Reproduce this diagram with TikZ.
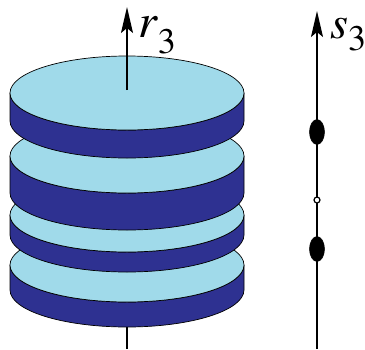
\documentclass[tikz,border=0pt]{standalone}
\usepackage{fontspec}
\setmainfont{TeX Gyre Termes}
\usetikzlibrary{arrows.meta,shapes.geometric}
\definecolor{facecol}{RGB}{160,218,234}
\definecolor{sidecol}{RGB}{46,49,145}
\begin{document}
\begin{tikzpicture}[x=1pt,y=-1pt,
  axisline/.style={line width=1.6pt,black},
  axisarrow/.style={axisline,-{Stealth[length=26pt,width=12pt,inset=5pt]}},
  rim/.style={fill=sidecol,draw=black,line width=0.7pt,line join=round},
  face/.style={fill=facecol,draw=black,line width=0.7pt},
  bead/.style={fill=black,draw=black,line width=0.5pt,ellipse,minimum width=15pt,minimum height=25pt,inner sep=0pt},
  hole/.style={fill=white,draw=black,line width=1.2pt,circle,minimum size=6pt,inner sep=0pt},
  axislabel/.style={anchor=base west,inner sep=0pt}
]
\useasboundingbox (0,0) rectangle (365,349);
\def\cx{127}\def\rx{117}\def\ry{37}
% one disc: #1 = centre height of its top face, #2 = thickness
\newcommand\drawdisc[2]{%
  \path[rim] (\cx-\rx,#1) -- (\cx-\rx,#1+#2)
    arc[start angle=180,end angle=0,x radius=\rx,y radius=\ry]
    -- (\cx+\rx,#1)
    arc[start angle=0,end angle=180,x radius=\rx,y radius=\ry] -- cycle;
  \path[face] (\cx,#1) ellipse[x radius=\rx,y radius=\ry];
}
% r3 axis
\coordinate (rbot) at (\cx,349);
\coordinate (rmid) at (\cx,90);
\coordinate (rtop) at (\cx,7);
\coordinate (rhid) at (\cx,300);
\draw[axisline] (rbot) -- (rhid);
% the stack, lowest disc first
\drawdisc{265}{25}
\drawdisc{215}{20}
\drawdisc{156}{37}
\drawdisc{93}{28}
\draw[axisarrow] (rmid) -- (rtop);
\node[axislabel] (rlab) at (138,37)
  {\fontsize{48}{48}\selectfont\textit{r}\raisebox{-16pt}{\fontsize{36}{36}\selectfont 3}};
% s3 axis with its points
\coordinate (sbot) at (317,349);
\coordinate (stop) at (317,11);
\draw[axisarrow] (sbot) -- (stop);
\node[bead] (p1) at (317,132) {};
\node[bead] (p2) at (317,249) {};
\node[hole] (p0) at (317,200) {};
\node[axislabel] (slab) at (330,38)
  {\fontsize{46}{46}\selectfont\textit{s}\raisebox{-12pt}{\fontsize{36}{36}\selectfont 3}};
\end{tikzpicture}
\end{document}
